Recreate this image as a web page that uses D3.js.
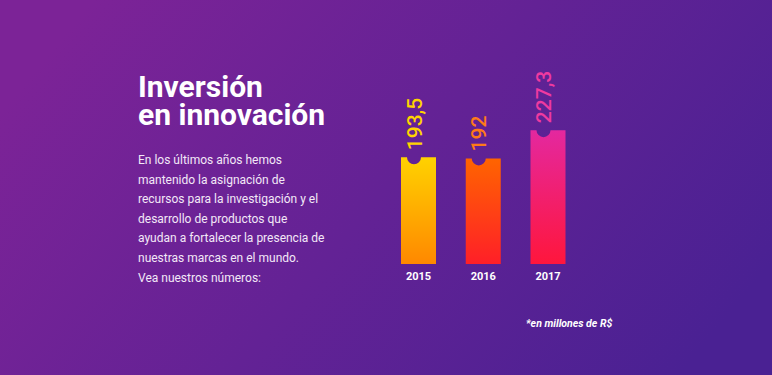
<!DOCTYPE html>
<html>
<head>
<meta charset="utf-8">
<script src="https://cdn.jsdelivr.net/npm/d3@7"></script>
<style>
  body { margin: 0; background: #5a2294; }
  svg { display: block; font-family: Roboto, "Noto Sans", sans-serif; }
</style>
</head>
<body>
<div id="chart"></div>
<script>
const W = 772, H = 375

// data
const years = ['2015', '2016', '2017']
const values = [193.5, 192, 227.3]
const valueLabels = ['193,5', '192', '227,3']
const topColors = ['#ffd200', '#ff6400', '#e4289f']
const bottomColors = ['#ff8800', '#ff1f28', '#ff163c']
const labelColors = ['#ffd400', '#ff7a18', '#ef3aa0']

const titleLines = ['Inversión', 'en innovación']
const bodyLines = [
  'En los últimos años hemos',
  'mantenido la asignación de',
  'recursos para la investigación y el',
  'desarrollo de productos que',
  'ayudan a fortalecer la presencia de',
  'nuestras marcas en el mundo.',
  'Vea nuestros números:'
]

const svg = d3.select('#chart')
  .append('svg')
  .attr('width', W)
  .attr('height', H)

const defs = svg.append('defs')

// background
const bg = defs.append('linearGradient')
  .attr('id', 'bg')
  .attr('x1', 0).attr('y1', 0.3).attr('x2', 1).attr('y2', 0.7)
bg.append('stop').attr('offset', 0).attr('stop-color', '#7c2397')
bg.append('stop').attr('offset', 1).attr('stop-color', '#4a2193')

svg.append('rect')
  .attr('width', W).attr('height', H)
  .attr('fill', 'url(#bg)')

// bar gradients
years.forEach((y, i) => {
  const g = defs.append('linearGradient')
    .attr('id', 'bar' + i)
    .attr('x1', 0).attr('y1', 0).attr('x2', 0).attr('y2', 1)
  g.append('stop').attr('offset', 0).attr('stop-color', topColors[i])
  g.append('stop').attr('offset', 1).attr('stop-color', bottomColors[i])
})

// title
svg.append('g')
  .selectAll('text')
  .data(titleLines)
  .join('text')
  .attr('x', 138)
  .attr('y', (d, i) => 97 + i * 28)
  .attr('fill', '#fff')
  .attr('font-size', 30)
  .attr('font-weight', 'bold')
  .text(d => d)

// paragraph (squeezed a little, the original face is narrower)
svg.append('g')
  .attr('transform', 'translate(138,0) scale(0.89,1)')
  .selectAll('text')
  .data(bodyLines)
  .join('text')
  .attr('x', 0)
  .attr('y', (d, i) => 164 + i * 19.6)
  .attr('fill', '#f3e8f7')
  .attr('font-size', 13.5)
  .text(d => d)

// scales
const x = d3.scalePoint()
  .domain(years)
  .range([418.5, 548])

const y = d3.scaleLinear()
  .domain([60, 240])
  .range([264, 120])

const barW = 35
const notchR = 7

function barPath(d, i) {
  const x0 = x(years[i]) - barW / 2
  const x1 = x0 + barW
  const top = y(d)
  const bottom = y.range()[0]
  const cx = x0 + 13
  return 'M' + x0 + ',' + top +
    'L' + (cx - notchR) + ',' + top +
    'A' + notchR + ',' + notchR + ' 0 0 0 ' + (cx + notchR) + ',' + top +
    'L' + x1 + ',' + top +
    'L' + x1 + ',' + bottom +
    'L' + x0 + ',' + bottom + 'Z'
}

const bars = svg.append('g')

bars.selectAll('path')
  .data(values)
  .join('path')
  .attr('d', barPath)
  .attr('fill', (d, i) => 'url(#bar' + i + ')')

// value labels (rotated)
bars.selectAll('text.val')
  .data(values)
  .join('text')
  .attr('class', 'val')
  .attr('transform', (d, i) => {
    const cx = x(years[i]) - barW / 2 + 13
    return 'translate(' + cx + ',' + (y(d) - 7) + ') rotate(-90)'
  })
  .attr('dy', '0.36em')
  .attr('fill', (d, i) => labelColors[i])
  .attr('font-size', 21)
  .attr('font-weight', 500)
  .text((d, i) => valueLabels[i])

// x axis labels
bars.selectAll('text.year')
  .data(years)
  .join('text')
  .attr('class', 'year')
  .attr('x', d => x(d))
  .attr('y', 280)
  .attr('text-anchor', 'middle')
  .attr('fill', '#fff')
  .attr('font-size', 11)
  .attr('font-weight', 'bold')
  .text(d => d)

// footnote
svg.append('text')
  .attr('x', 526)
  .attr('y', 327)
  .attr('fill', '#fff')
  .attr('font-size', 10.5)
  .attr('font-weight', 'bold')
  .attr('font-style', 'italic')
  .text('*en millones de R$')
</script>
</body>
</html>
